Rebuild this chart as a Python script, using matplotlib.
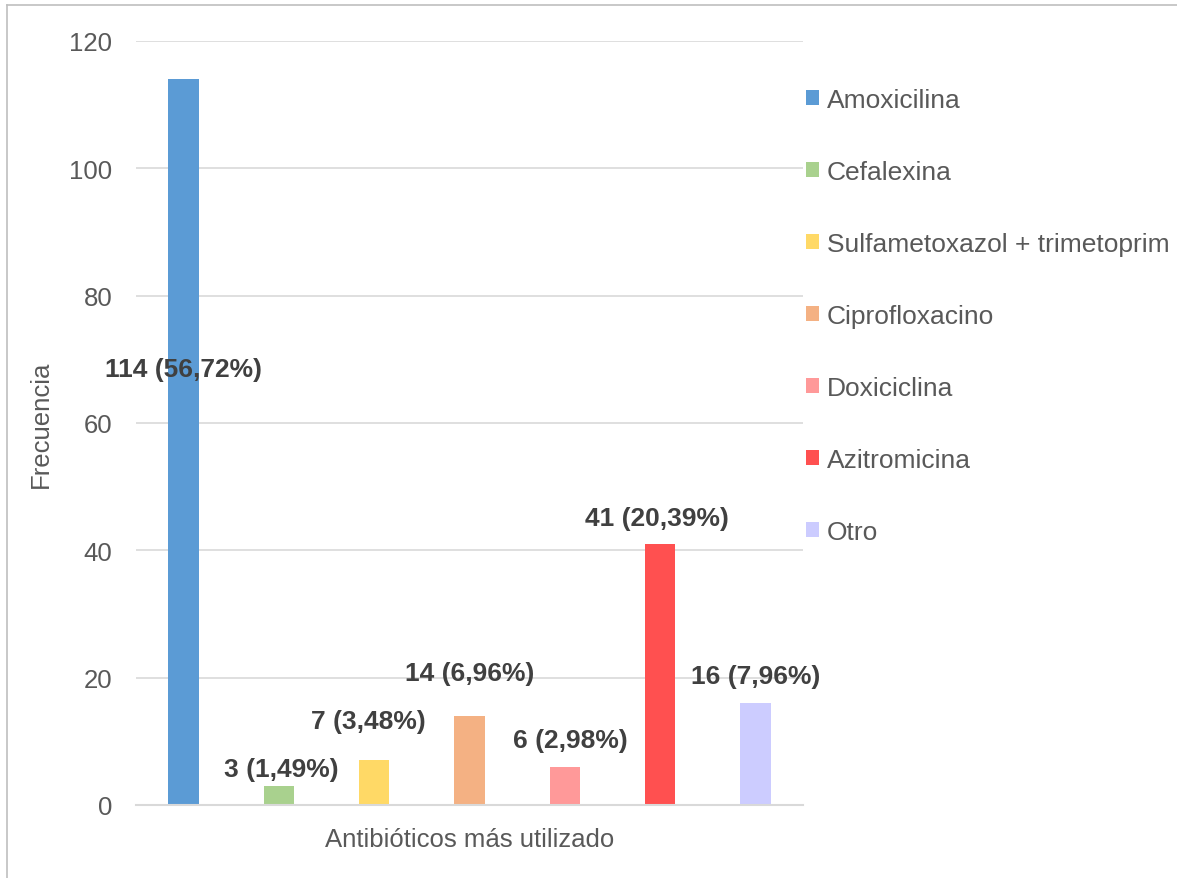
import matplotlib
matplotlib.use("Agg")
import matplotlib.pyplot as plt
from matplotlib.lines import Line2D

plt.rcParams['font.family'] = ['Liberation Sans', 'DejaVu Sans']

# data
antibioticos = ['Amoxicilina', 'Cefalexina', 'Sulfametoxazol + trimetoprim',
                'Ciprofloxacino', 'Doxiciclina', 'Azitromicina', 'Otro']
frecuencia = [114, 3, 7, 14, 6, 41, 16]
porcentaje = ['56,72%', '1,49%', '3,48%', '6,96%', '2,98%', '20,39%', '7,96%']
colores = ['#5B9BD5', '#A9D18E', '#FFD966', '#F4B183', '#FF9999', '#FF5050', '#CCCCFF']

# where the labels sit (as placed by hand in the original)
label_y = [68.5, 5.7, 13.2, 20.7, 10.2, 45.1, 20.3]
label_dx = [0.0, 0.03, -0.06, 0.0, 0.06, -0.03, 0.0]

fig = plt.figure(figsize=(11.77, 8.79), dpi=100)
ax = fig.add_axes([136 / 1177, 1 - 806 / 879, (803 - 136) / 1177, (806 - 42) / 879])

for i, (nombre, val, col) in enumerate(zip(antibioticos, frecuencia, colores)):
    ax.bar(i, val, width=0.32, color=col, label=nombre, zorder=2)
    ax.text(i + label_dx[i], label_y[i], f'{val} ({porcentaje[i]})',
            ha='center', va='center', fontsize=19, fontweight='bold',
            color='#404040', zorder=3)

ax.set_xlim(-0.5, 6.5)
ax.set_ylim(0, 120)
ax.set_yticks(range(0, 121, 20))
ax.set_xticks([])
ax.yaxis.grid(True, color='#d9d9d9', linewidth=1.2, zorder=0)
ax.set_axisbelow(True)
for s in ['top', 'right', 'left']:
    ax.spines[s].set_visible(False)
ax.spines['bottom'].set_color('#d9d9d9')
ax.spines['bottom'].set_linewidth(1.5)
ax.tick_params(axis='y', length=0, labelsize=18.5, labelcolor='#595959', pad=17)

ax.set_xlabel('Antibióticos más utilizado', fontsize=18.5, color='#595959', labelpad=16)
ax.set_ylabel('Frecuencia', fontsize=18.5, color='#595959', labelpad=12)

fig.legend(loc='upper left', bbox_to_anchor=(795 / 1177, 1 - 78 / 879),
           frameon=False, fontsize=19, labelcolor='#595959',
           handlelength=0.5, handleheight=0.5, handletextpad=0.3,
           labelspacing=1.82, borderaxespad=0)

# outer frame
fig.add_artist(Line2D([7 / 1177, 7 / 1177], [0, 1 - 6 / 879], color='#bfbfbf', lw=1.2))
fig.add_artist(Line2D([7 / 1177, 1], [1 - 6 / 879, 1 - 6 / 879], color='#bfbfbf', lw=1.2))

fig.savefig('out.png', dpi=100, facecolor='white')
